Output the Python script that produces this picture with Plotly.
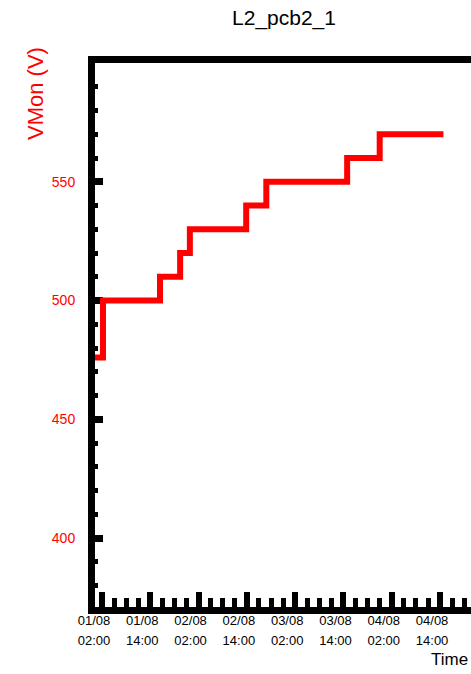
import plotly.graph_objects as go

# VMon step history for channel L2_pcb2_1
times = [
    "2021-08-01 00:15", "2021-08-01 02:15", "2021-08-01 16:25", "2021-08-01 21:25",
    "2021-08-01 23:50", "2021-08-02 13:50", "2021-08-02 18:50", "2021-08-03 14:55",
    "2021-08-03 23:00", "2021-08-04 14:50",
]
vmon = [476, 500, 510, 520, 530, 540, 550, 560, 570, 570]

# time-axis labels (two rows: date and hour)
tick_times = [
    "2021-08-01 02:00", "2021-08-01 14:00", "2021-08-02 02:00", "2021-08-02 14:00",
    "2021-08-03 02:00", "2021-08-03 14:00", "2021-08-04 02:00", "2021-08-04 14:00",
]
date_labels = ["01/08", "01/08", "02/08", "02/08", "03/08", "03/08", "04/08", "04/08"]
hour_labels = ["02:00", "14:00", "02:00", "14:00", "02:00", "14:00", "02:00", "14:00"]

# voltage-axis labels
v_ticks = [400, 450, 500, 550]

x_range = ["2021-08-01 00:16", "2021-08-04 21:41"]
y_range = [371, 600]

RED = "#ff0000"
FONT = "Liberation Sans"

fig = go.Figure()
fig.add_trace(go.Scatter(
    x=times, y=vmon, mode="lines", line=dict(color=RED, width=6, shape="hv"),
    showlegend=False, hoverinfo="skip",
))
# carrier trace so the second (hour) label row is drawn
fig.add_trace(go.Scatter(
    x=times, y=vmon, xaxis="x2", mode="lines",
    line=dict(color="rgba(0,0,0,0)", width=0), showlegend=False, hoverinfo="skip",
))

fig.update_layout(
    width=471, height=674,
    margin=dict(l=95, r=0, t=63, b=67),
    paper_bgcolor="white", plot_bgcolor="white",
    font=dict(family=FONT),
    title=dict(text="L2_pcb2_1", font=dict(size=21, color="black", family=FONT),
               xref="container", x=284 / 471, xanchor="center",
               yref="container", y=1 - 18 / 674, yanchor="middle"),
    xaxis=dict(
        type="date", range=x_range,
        tickmode="array", tickvals=tick_times, ticktext=date_labels,
        ticks="inside", ticklen=15, tickwidth=6, tickcolor="black",
        tickfont=dict(size=13, color="black"), ticklabelshift=-8, ticklabelstandoff=-5,
        showline=True, linewidth=7, linecolor="black", mirror=True,
        showgrid=False, zeroline=False, layer="below traces",
        minor=dict(ticks="inside", dtick=3 * 3600 * 1000, tick0="2021-08-01 02:00",
                   ticklen=9, tickwidth=5, tickcolor="black", showgrid=False),
    ),
    xaxis2=dict(
        type="date", range=x_range, overlaying="x", anchor="y", side="bottom",
        tickmode="array", tickvals=tick_times, ticktext=hour_labels,
        ticks="", tickfont=dict(size=13, color="black"),
        ticklabelshift=-8, ticklabelstandoff=24,
        showline=False, showgrid=False, zeroline=False,
    ),
    yaxis=dict(
        range=y_range, tickmode="array", tickvals=v_ticks,
        ticks="inside", ticklen=8, tickwidth=7, tickcolor="black",
        tickfont=dict(size=14, color=RED), ticklabelstandoff=10,
        showline=True, linewidth=7, linecolor="black", mirror=False,
        showgrid=False, zeroline=False, layer="below traces",
        minor=dict(ticks="inside", tick0=400, dtick=10, ticklen=3, tickwidth=5,
                   tickcolor="black", showgrid=False),
    ),
    annotations=[
        dict(text="VMon (V)", textangle=-90, font=dict(size=22, color=RED, family=FONT),
             xref="paper", x=(35 - 95) / 376, xanchor="center",
             yref="paper", y=(607 - 94) / 544, yanchor="middle", showarrow=False),
        dict(text="Time", font=dict(size=17, color="black", family=FONT),
             xref="paper", x=(470 - 95) / 376, xanchor="right",
             yref="paper", y=(607 - 659) / 544, yanchor="middle", showarrow=False),
    ],
)

fig.write_html("out.html")
